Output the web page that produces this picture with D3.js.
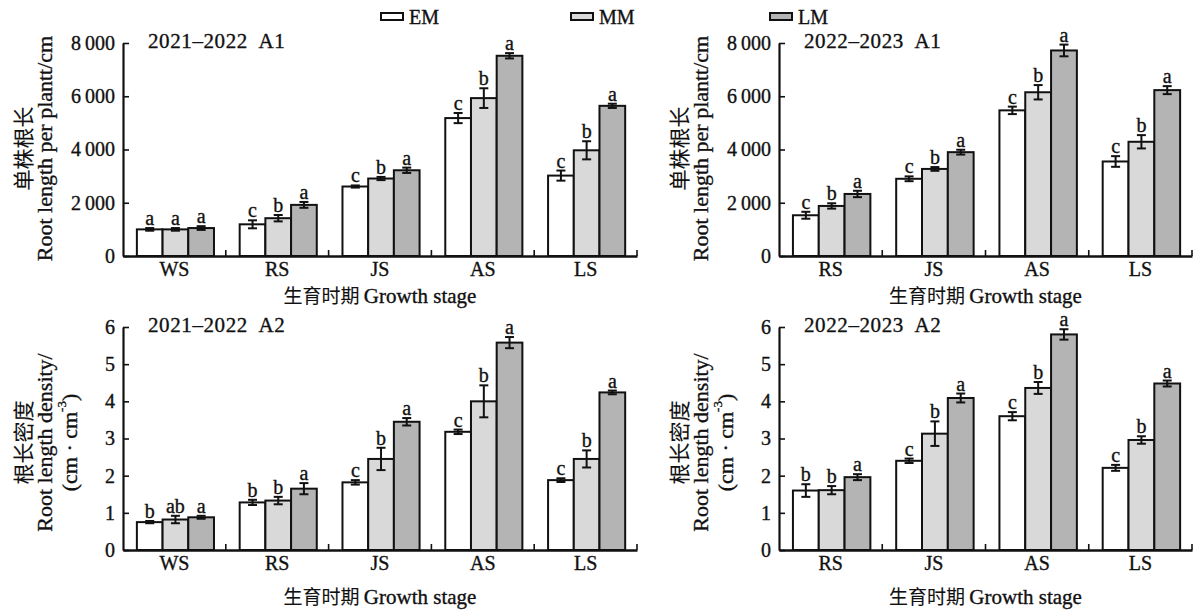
<!DOCTYPE html>
<html>
<head>
<meta charset="utf-8">
<script src="https://cdn.jsdelivr.net/npm/d3@7"></script>
<style>
  body{margin:0;background:#fff;}
  text{font-family:"Liberation Serif","Times New Roman",serif;fill:#111;stroke:#111;stroke-width:0.35px;}
  .cjk{font-family:"Noto Sans CJK SC",sans-serif;stroke-width:0.1px;}
</style>
</head>
<body>
<svg id="chart" width="1195" height="611"></svg>
<script>
// categories
const stagesA = ['WS','RS','JS','AS','LS'];
const stagesB = ['RS','JS','AS','LS'];
const treatments = ['EM','MM','LM'];

// 2021-2022 A1 root length per plant (cm)
const rl2122EM = [1000,1190,2610,5180,3020];
const rl2122MM = [1000,1420,2910,5930,3970];
const rl2122LM = [1050,1920,3220,7520,5640];
const rl2122EMerr = [50,150,40,190,190];
const rl2122MMerr = [50,120,60,370,340];
const rl2122LMerr = [70,110,100,100,80];
const rl2122Let = [['a','c','c','c','c'],['a','b','b','b','b'],['a','a','a','a','a']];

// 2022-2023 A1
const rl2223EM = [1530,2900,5470,3550];
const rl2223MM = [1880,3270,6150,4290];
const rl2223LM = [2330,3900,7720,6230];
const rl2223EMerr = [130,90,140,200];
const rl2223MMerr = [100,70,270,250];
const rl2223LMerr = [120,90,220,150];
const rl2223Let = [['c','c','c','c'],['b','b','b','b'],['a','a','a','a']];

// 2021-2022 A2 root length density
const rd2122EM = [0.75,1.28,1.82,3.18,1.88];
const rd2122MM = [0.82,1.33,2.45,4.00,2.45];
const rd2122LM = [0.88,1.65,3.45,5.58,4.24];
const rd2122EMerr = [0.03,0.07,0.06,0.06,0.05];
const rd2122MMerr = [0.10,0.10,0.30,0.43,0.23];
const rd2122LMerr = [0.04,0.15,0.10,0.15,0.05];
const rd2122Let = [['b','b','c','c','c'],['ab','b','b','b','b'],['a','a','a','a','a']];

// 2022-2023 A2
const rd2223EM = [1.60,2.40,3.60,2.21];
const rd2223MM = [1.61,3.13,4.36,2.96];
const rd2223LM = [1.96,4.09,5.80,4.48];
const rd2223EMerr = [0.17,0.06,0.11,0.08];
const rd2223MMerr = [0.11,0.33,0.16,0.10];
const rd2223LMerr = [0.08,0.12,0.14,0.08];
const rd2223Let = [['b','c','c','c'],['b','b','b','b'],['a','a','a','a']];

// y ticks
const ticksA1 = [0,2000,4000,6000,8000];
const ticksA2 = [0,1,2,3,4,5,6];

const fills = {EM:'#ffffff',MM:'#d9d9d9',LM:'#b4b4b4'};
const svg = d3.select('#chart');

function fmtA1(d){return d===0?'0':d3.format(',')(d).replace(',','\u2009');}

function drawPanel(p){
  const g = svg.append('g');
  const y = d3.scaleLinear().domain([0,p.yMax]).range([p.yBot,p.yTop]);
  const x = d3.scaleBand().domain(p.stages).range([p.x0,p.x1]);
  const bw = x.bandwidth();
  const xi = d3.scaleBand().domain(treatments).range([bw*0.135,bw*0.885]);

  // bars
  treatments.forEach((t,ti)=>{
    const vals = p.means[ti], errs = p.errs[ti], lets = p.letters[ti];
    const grp = g.append('g');
    grp.selectAll('rect').data(p.stages).enter().append('rect')
      .attr('x',d=>x(d)+xi(t)).attr('width',xi.bandwidth())
      .attr('y',(d,i)=>y(vals[i])).attr('height',(d,i)=>p.yBot-y(vals[i]))
      .attr('fill',fills[t]).attr('stroke','#111').attr('stroke-width',2);
    const cx = d=>x(d)+xi(t)+xi.bandwidth()/2;
    grp.selectAll('line.eb').data(p.stages).enter().append('line').attr('class','eb')
      .attr('x1',cx).attr('x2',cx)
      .attr('y1',(d,i)=>y(vals[i]-errs[i])).attr('y2',(d,i)=>y(vals[i]+errs[i]))
      .attr('stroke','#111').attr('stroke-width',2);
    [-1,1].forEach((s,si)=>{
      const cls = 'cap'+si;
      grp.selectAll('line.'+cls).data(p.stages).enter().append('line').attr('class',cls)
        .attr('x1',d=>cx(d)-4.5).attr('x2',d=>cx(d)+4.5)
        .attr('y1',(d,i)=>y(vals[i]+s*errs[i]))
        .attr('y2',(d,i)=>y(vals[i]+s*errs[i]))
        .attr('stroke','#111').attr('stroke-width',2);
    });
    grp.selectAll('text').data(p.stages).enter().append('text')
      .attr('x',cx).attr('y',(d,i)=>y(vals[i]+errs[i])-3)
      .attr('text-anchor','middle').style('font-size','20px')
      .text((d,i)=>lets[i]);
  });

  // y axis
  const ya = g.append('g').attr('transform',`translate(${p.x0},0)`)
    .call(d3.axisLeft(y).tickValues(p.ticks).tickFormat(p.fmt).tickSizeInner(-6).tickSizeOuter(0).tickPadding(8));
  ya.select('.domain').attr('stroke','#111').attr('stroke-width',2.2);
  ya.selectAll('.tick line').attr('stroke','#111').attr('stroke-width',1.6);
  ya.selectAll('.tick text').style('font-size','20px').attr('fill','#111').attr('font-family','Liberation Serif');

  // x axis
  const xa = g.append('g').attr('transform',`translate(0,${p.yBot})`)
    .call(d3.axisBottom(x).tickSize(0).tickPadding(6));
  xa.select('.domain').attr('stroke','#111').attr('stroke-width',2.4);
  xa.selectAll('.tick text').style('font-size','20px').attr('fill','#111').attr('font-family','Liberation Serif');
  xa.selectAll('line.sep').data(p.stages).enter().append('line').attr('class','sep')
    .attr('x1',d=>x(d)+bw).attr('x2',d=>x(d)+bw).attr('y1',0).attr('y2',-6)
    .attr('stroke','#111').attr('stroke-width',1.6);

  // x title
  const xt = g.append('text').attr('x',(p.x0+p.x1)/2).attr('y',p.xTitleY)
    .attr('text-anchor','middle').style('font-size','21px');
  xt.append('tspan').attr('class','cjk').style('font-size','19px').text('生育时期 ');
  xt.append('tspan').text('Growth stage');

  // panel title
  g.append('text').attr('x',p.x0+25).attr('y',p.yTop+5).style('font-size','21px')
    .style('letter-spacing','0.6px').attr('xml:space','preserve').text(p.title);

  // y label lines
  const cy = (p.yTop+p.yBot)/2 + p.ylabDy;
  p.ylab.forEach(l=>{
    const t = g.append('text').attr('transform',`translate(${p.x0+l.dx},${cy}) rotate(-90)`)
      .attr('text-anchor','middle').attr('dominant-baseline','central').style('font-size',l.size+'px');
    l.parts.forEach(part=>{
      const ts = t.append('tspan').text(part.t);
      if(part.cls) ts.attr('class',part.cls);
      if(part.sup) ts.attr('baseline-shift','super').style('font-size','13px');
    });
  });
}

const ylabA1 = [
  {dx:-101,size:21,parts:[{t:'单株根长',cls:'cjk'}]},
  {dx:-79,size:22,parts:[{t:'Root length per plantt/cm'}]}
];
const ylabA2 = [
  {dx:-101,size:21,parts:[{t:'根长密度',cls:'cjk'}]},
  {dx:-79,size:22,parts:[{t:'Root length density/'}]},
  {dx:-54,size:22,parts:[{t:'(cm · cm'},{t:'-3',sup:true},{t:')'}]}
];

drawPanel({x0:123,x1:637,yTop:43,yBot:256,yMax:8000,ticks:ticksA1,fmt:fmtA1,stages:stagesA,
  means:[rl2122EM,rl2122MM,rl2122LM],errs:[rl2122EMerr,rl2122MMerr,rl2122LMerr],letters:rl2122Let,
  title:'2021–2022  A1',xTitleY:303,ylab:ylabA1,ylabDy:-1});
drawPanel({x0:779,x1:1192,yTop:43,yBot:256,yMax:8000,ticks:ticksA1,fmt:fmtA1,stages:stagesB,
  means:[rl2223EM,rl2223MM,rl2223LM],errs:[rl2223EMerr,rl2223MMerr,rl2223LMerr],letters:rl2223Let,
  title:'2022–2023  A1',xTitleY:303,ylab:ylabA1,ylabDy:-1});
drawPanel({x0:123,x1:637,yTop:327,yBot:550,yMax:6,ticks:ticksA2,fmt:d3.format('d'),stages:stagesA,
  means:[rd2122EM,rd2122MM,rd2122LM],errs:[rd2122EMerr,rd2122MMerr,rd2122LMerr],letters:rd2122Let,
  title:'2021–2022  A2',xTitleY:604,ylab:ylabA2,ylabDy:4});
drawPanel({x0:779,x1:1192,yTop:327,yBot:550,yMax:6,ticks:ticksA2,fmt:d3.format('d'),stages:stagesB,
  means:[rd2223EM,rd2223MM,rd2223LM],errs:[rd2223EMerr,rd2223MMerr,rd2223LMerr],letters:rd2223Let,
  title:'2022–2023  A2',xTitleY:604,ylab:ylabA2,ylabDy:4});

// legend
const legX = [381,571,770];
const leg = svg.append('g');
treatments.forEach((t,i)=>{
  leg.append('rect').attr('x',legX[i]).attr('y',13).attr('width',22).attr('height',7)
    .attr('fill',fills[t]).attr('stroke','#111').attr('stroke-width',2);
  leg.append('text').attr('x',legX[i]+28).attr('y',24).style('font-size','20px').text(t);
});
</script>
</body>
</html>
